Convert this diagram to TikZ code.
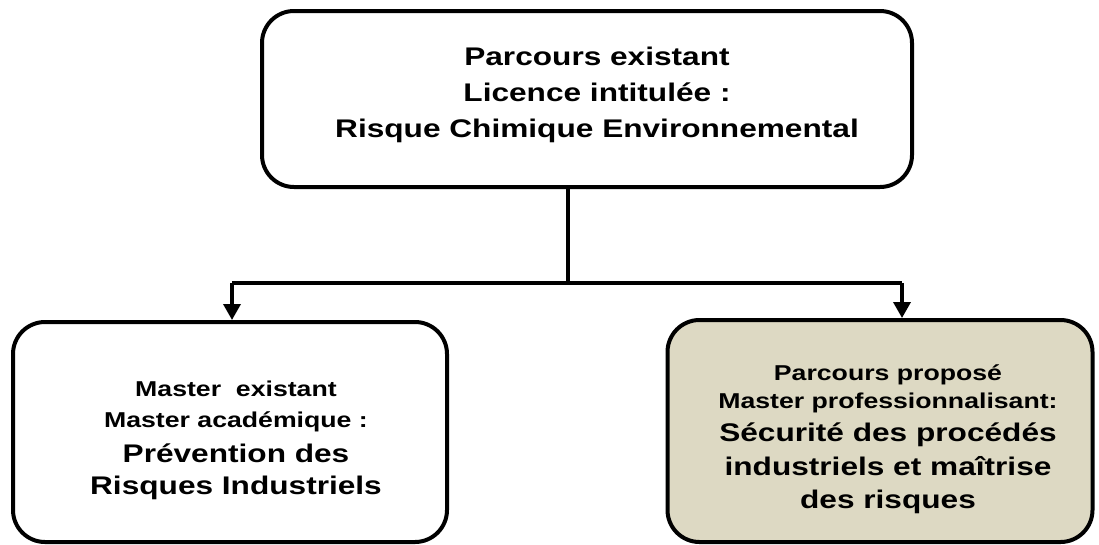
\documentclass[tikz,border=0pt]{standalone}
\usepackage{fontspec}
\setmainfont[FakeStretch=1.24]{Liberation Sans}
\usetikzlibrary{arrows.meta}
\definecolor{proposedfill}{RGB}{221,217,195}
\tikzset{
  block/.style={draw, line width=4pt, rounded corners=32pt},
  blocktext/.style={align=center, inner sep=0pt},
  link/.style={line width=3.5pt},
  linkarrow/.style={link, -{Triangle[length=16pt,width=17pt]}}
}
\newcommand{\toplines}{\bfseries\fontsize{25.5}{36}\selectfont}
\newcommand{\biglines}{\bfseries\fontsize{25.5}{33}\selectfont}
\newcommand{\smalllines}{\fontsize{21.5}{29.5}\selectfont}

\begin{document}
\begin{tikzpicture}[x=1pt,y=-1pt]
\useasboundingbox (0,0) rectangle (1099,544);

\node (licence) [block, minimum width=650pt, minimum height=176pt] at (587,99) {};
\node (academic) [block, minimum width=434pt, minimum height=220pt] at (230,432) {};
\node (proposed) [block, fill=proposedfill, minimum width=425pt, minimum height=222pt] at (880,431) {};

\node (licencetext) [blocktext, font=\toplines] at (597,94.5) {Parcours existant\\ Licence intitulée :\\ Risque Chimique Environnemental};
\node (academictext) [blocktext, font=\biglines] at (236,440) {\smalllines Master\ \ existant\\[-2pt] \smalllines Master académique :\\[2pt] Prévention des\\[-1pt] Risques Industriels};
\node (proposedtext) [blocktext, font=\biglines] at (888,439) {\smalllines Parcours proposé\\[-5pt] \smalllines Master professionnalisant:\\ Sécurité des procédés\\[1pt] industriels et maîtrise\\ des risques};

\coordinate (split) at (568,283);
\coordinate (leftturn) at (232,283);
\coordinate (rightturn) at (902,283);

\draw[link] (licence.south -| split) -- (split);
\draw[link] (leftturn) -- (rightturn);
\draw[linkarrow] (leftturn) -- (leftturn |- academic.north);
\draw[linkarrow] (rightturn) -- (rightturn |- proposed.north);
\end{tikzpicture}
\end{document}
